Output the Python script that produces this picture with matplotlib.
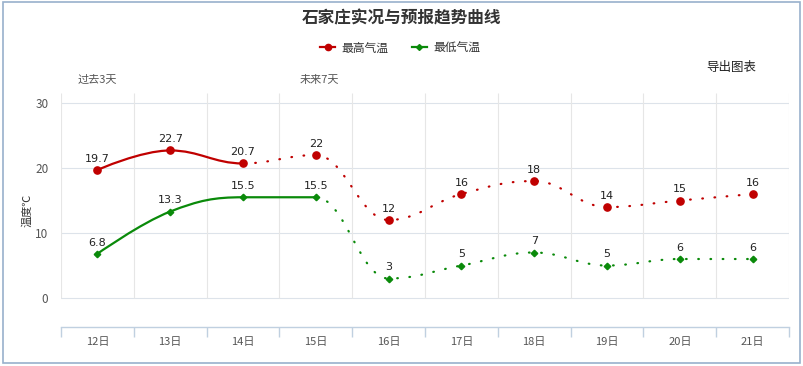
import matplotlib
matplotlib.use("Agg")
import matplotlib.pyplot as plt
from matplotlib.path import Path
from matplotlib.patches import PathPatch, Rectangle
from matplotlib.lines import Line2D
import numpy as np

plt.rcParams['font.family'] = ['Noto Sans CJK SC', 'DejaVu Sans']

title = "石家庄实况与预报趋势曲线"
days = ["12日", "13日", "14日", "15日", "16日", "17日", "18日", "19日", "20日", "21日"]
tmax = [19.7, 22.7, 20.7, 22, 12, 16, 18, 14, 15, 16]
tmin = [6.8, 13.3, 15.5, 15.5, 3, 5, 7, 5, 6, 6]
tmax_solid_until = 2   # index where observed part ends
tmin_solid_until = 3
series_names = ["最高气温", "最低气温"]
yticks = [0, 10, 20, 30]

RED = "#c00000"
GREEN = "#0a8a0a"
AXC = "#c0d0e0"
GRID = "#e6e6e6"


def spline_segments(xs, ys, smoothing=1.5):
    n = len(xs)
    lc = [None] * n
    rc = [None] * n
    denom = smoothing + 1
    for i in range(n):
        x, y = xs[i], ys[i]
        if 0 < i < n - 1:
            lx, ly = xs[i - 1], ys[i - 1]
            nx, ny = xs[i + 1], ys[i + 1]
            lcx = (smoothing * x + lx) / denom
            lcy = (smoothing * y + ly) / denom
            rcx = (smoothing * x + nx) / denom
            rcy = (smoothing * y + ny) / denom
            corr = 0
            if rcx != lcx:
                corr = (rcy - lcy) * (rcx - x) / (rcx - lcx) + y - rcy
            lcy += corr
            rcy += corr
            if lcy > ly and lcy > y:
                lcy = max(ly, y); rcy = 2 * y - lcy
            elif lcy < ly and lcy < y:
                lcy = min(ly, y); rcy = 2 * y - lcy
            if rcy > ny and rcy > y:
                rcy = max(ny, y); lcy = 2 * y - rcy
            elif rcy < ny and rcy < y:
                rcy = min(ny, y); lcy = 2 * y - rcy
            lc[i] = (lcx, lcy)
            rc[i] = (rcx, rcy)
        else:
            lc[i] = (x, y)
            rc[i] = (x, y)
    segs = []
    for i in range(n - 1):
        segs.append([(xs[i], ys[i]), rc[i], lc[i + 1], (xs[i + 1], ys[i + 1])])
    return segs


def draw_series(ax, ys, split, color, marker, ms):
    xs = list(range(len(ys)))
    segs = spline_segments(xs, ys)
    def make_path(sl):
        verts, codes = [], []
        for k, s in enumerate(sl):
            if k == 0:
                verts.append(s[0]); codes.append(Path.MOVETO)
            verts += [s[1], s[2], s[3]]
            codes += [Path.CURVE4] * 3
        return Path(verts, codes)
    solid = PathPatch(make_path(segs[:split]), fill=False, edgecolor=color, lw=1.6,
                      capstyle='round', joinstyle='round', zorder=3)
    dotted = PathPatch(make_path(segs[split:]), fill=False, edgecolor=color, lw=1.6,
                       linestyle=(0, (0.3, 5.2)), capstyle='round', zorder=3)
    ax.add_patch(solid)
    ax.add_patch(dotted)
    ax.plot(xs, ys, linestyle='none', marker=marker, color=color, ms=ms, zorder=4)
    for x, y in zip(xs, ys):
        ax.annotate(f"{y:g}", (x, y), xytext=(0, 4.5), textcoords='offset points',
                    ha='center', va='bottom', fontsize=8, color='#222222',
                    family=['DejaVu Sans'], zorder=5)


fig = plt.figure(figsize=(8.04, 3.66), dpi=100)
W, H = 804, 366
ax = fig.add_axes([61 / W, 1 - 327 / H, (789 - 61) / W, (327 - 93) / H])
ymin, ymax = -4.46, 31.54
ax.set_xlim(-0.5, len(days) - 0.5)
ax.set_ylim(ymin, ymax)

for yv in yticks:
    ax.axhline(yv, color="#dde3ea", lw=0.8, zorder=1)
bounds = np.arange(len(days) + 1) - 0.5
ax.vlines(bounds, 0, ymax, color=GRID, lw=0.8, zorder=1)

draw_series(ax, tmax, tmax_solid_until, RED, 'o', 5.2)
draw_series(ax, tmin, tmin_solid_until, GREEN, 'D', 3.3)

for s in ['top', 'left', 'right']:
    ax.spines[s].set_visible(False)
ax.spines['bottom'].set_color(AXC)
ax.spines['bottom'].set_linewidth(1)

ax.set_xticks(range(len(days)))
ax.set_xticklabels(days, fontsize=8, color='#555555')
ax.set_xticks(bounds, minor=True)
ax.tick_params(axis='x', which='major', length=0, pad=7)
ax.tick_params(axis='x', which='minor', length=7, color=AXC, width=1)
ax.set_yticks(yticks)
ax.set_yticklabels([str(v) for v in yticks], fontsize=8.5, color='#555555')
ax.tick_params(axis='y', length=0, pad=9)
ax.set_ylabel("温度℃", fontsize=8, color='#333333', labelpad=2)

fig.text(0.5, 1 - 18 / H, title, ha='center', va='center', fontsize=12,
         fontweight='bold', color='#333333')

handles = [Line2D([0], [0], color=RED, marker='o', ms=4.5, lw=1.6),
           Line2D([0], [0], color=GREEN, marker='D', ms=3, lw=1.6)]
fig.legend(handles, series_names, loc='center', bbox_to_anchor=(400 / W, 1 - 48 / H),
           ncol=2, frameon=False, handlelength=1.3, handletextpad=0.5,
           columnspacing=2.0, prop={'size': 8.5}, labelcolor='#333333')

fig.text(97 / W, 1 - 80 / H, "过去3天", ha='center', va='center', fontsize=8, color='#555555')
fig.text(319 / W, 1 - 80 / H, "未来7天", ha='center', va='center', fontsize=8, color='#555555')
fig.text(731 / W, 1 - 67 / H, "导出图表", ha='center', va='center', fontsize=9, color='#222222')

fig.patches.append(Rectangle((3 / W, 1 - 363 / H), (800 - 3) / W, (363 - 2) / H,
                             transform=fig.transFigure, fill=False,
                             edgecolor='#98b0cc', lw=1.2))

fig.savefig("out.png", dpi=100, facecolor='white')
